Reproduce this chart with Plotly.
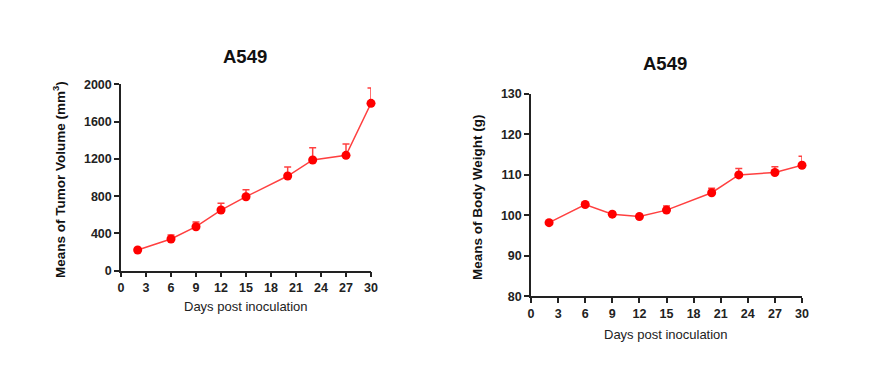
import plotly.graph_objects as go

days = [2, 6, 9, 12, 15, 20, 23, 27, 30]
tumor_volume = [222, 340, 472, 651, 794, 1016, 1188, 1238, 1796]
tumor_err = [18, 42, 50, 72, 75, 97, 132, 122, 165]
body_weight = [98.2, 102.7, 100.3, 99.7, 101.3, 105.6, 110.0, 110.6, 112.4]
body_err = [0.3, 0.4, 0.5, 0.6, 1.0, 1.1, 1.6, 1.4, 2.2]
x_ticks = [0, 3, 6, 9, 12, 15, 18, 21, 24, 27, 30]
tumor_ticks = [0, 400, 800, 1200, 1600, 2000]
weight_ticks = [80, 90, 100, 110, 120, 130]

RED = "#ff0000"
LINE_RED = "#ff4040"
FONT = "Liberation Sans, Arial, sans-serif"
W, H, OFF = 882, 369, 8  # page body offsets the figure by 8px

fig = go.Figure()
fig.add_trace(go.Scatter(
    x=days, y=tumor_volume, mode="lines+markers",
    line=dict(color=LINE_RED, width=1.5),
    marker=dict(color=RED, size=9),
    error_y=dict(type="data", array=tumor_err, symmetric=False, arrayminus=[0]*len(days),
                 color=LINE_RED, thickness=1.5, width=3.5),
    xaxis="x", yaxis="y", cliponaxis=False, showlegend=False))
fig.add_trace(go.Scatter(
    x=days, y=body_weight, mode="lines+markers",
    line=dict(color=LINE_RED, width=1.5),
    marker=dict(color=RED, size=9),
    error_y=dict(type="data", array=body_err, symmetric=False, arrayminus=[0]*len(days),
                 color=LINE_RED, thickness=1.5, width=3.5),
    xaxis="x2", yaxis="y2", cliponaxis=False, showlegend=False))

axis_common = dict(showgrid=False, zeroline=False, showline=True, linecolor="#222",
                   linewidth=1.5, ticks="outside", ticklen=5, tickwidth=1.5, tickcolor="#222",
                   automargin=False,
                   tickfont=dict(family=FONT, size=12.5, color="#222", weight="bold"))


def xdom(a, b):
    return [(a - OFF) / W, (b - OFF) / W]


def ydom(bottom, top):
    return [1 - (bottom - OFF) / H, 1 - (top - OFF) / H]


fig.update_layout(
    width=W, height=H, margin=dict(l=0, r=0, t=0, b=0, autoexpand=False),
    plot_bgcolor="white", paper_bgcolor="white",
    xaxis=dict(domain=xdom(121, 371), range=[0, 30], tickvals=x_ticks, anchor="y", **axis_common),
    yaxis=dict(domain=ydom(270.7, 84.3), range=[0, 2000], tickvals=tumor_ticks, anchor="x", **axis_common),
    xaxis2=dict(domain=xdom(531, 802), range=[0, 30], tickvals=x_ticks, anchor="y2", **axis_common),
    yaxis2=dict(domain=ydom(296.3, 94), range=[80, 130], tickvals=weight_ticks, anchor="x2", **axis_common),
    annotations=[
        dict(text="<b>A549</b>", x=245, y=57, showarrow=False,
             font=dict(family=FONT, size=18.5, color="#111")),
        dict(text="<b>A549</b>", x=665, y=64, showarrow=False,
             font=dict(family=FONT, size=18.5, color="#111")),
        dict(text="<b>Means of Tumor Volume (mm<sup>3</sup>)</b>", x=59, y=180, textangle=-90,
             showarrow=False, font=dict(family=FONT, size=13.5, color="#111")),
        dict(text="<b>Means of Body Weight (g)</b>", x=477, y=197, textangle=-90,
             showarrow=False, font=dict(family=FONT, size=13.5, color="#111")),
        dict(text="Days post inoculation", x=246, y=306, showarrow=False,
             font=dict(family=FONT, size=13, color="#222")),
        dict(text="Days post inoculation", x=666, y=334, showarrow=False,
             font=dict(family=FONT, size=13, color="#222")),
    ],
)
# convert target pixel coordinates of annotations to paper fractions
for a in fig.layout.annotations:
    a.xref = "paper"; a.yref = "paper"
    a.x = (a.x - OFF) / W
    a.y = 1 - (a.y - OFF) / H
    a.xanchor = "center"; a.yanchor = "middle"

fig.write_html("out.html")
